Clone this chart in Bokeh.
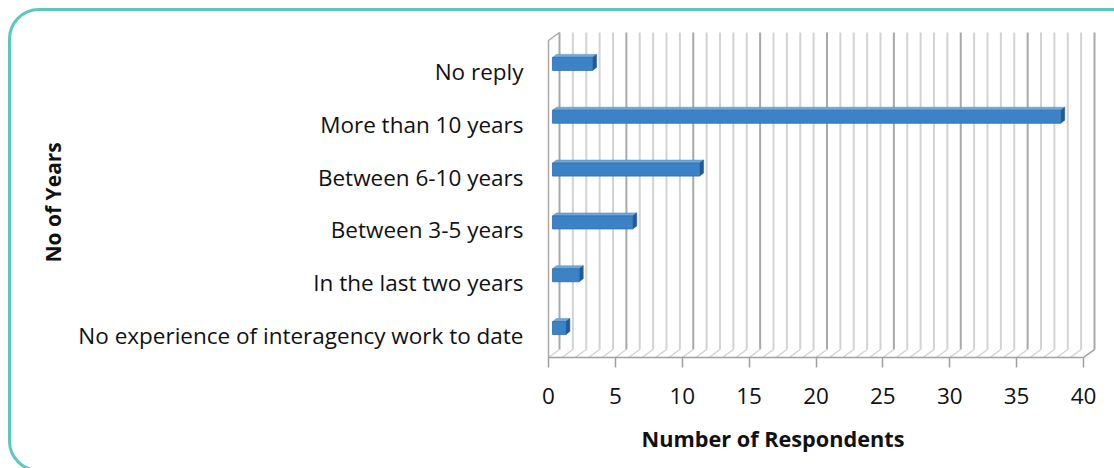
from bokeh.plotting import figure
from bokeh.models import Range1d, FixedTicker, Title, InlineStyleSheet
from bokeh.embed import file_html
from bokeh.resources import INLINE

# Survey data: years of interagency working experience
categories = [
    "No experience of interagency work to date",
    "In the last two years",
    "Between 3-5 years",
    "Between 6-10 years",
    "More than 10 years",
    "No reply",
]
respondents = [1, 2, 6, 11, 38, 3]
x_ticks = [0, 5, 10, 15, 20, 25, 30, 35, 40]
x_max = 40

# Canvas and plot-frame geometry (pixels)
W, H = 1114, 468
FL, FR, FT, FB = 540, 1104, 26, 360
X0_PX = 548                  # pixel column of value 0 on the front plane
PX_PER_X = 13.375
FRONT_BOTTOM, FRONT_TOP = 357, 40
n = len(categories)
PX_PER_Y = (FRONT_BOTTOM - FRONT_TOP) / n

# category labels sit a little below the centre of each band
shift = -4.5 / PX_PER_Y
y_lo, y_hi = -0.5 - shift, n - 0.5 - shift

x_start = -(X0_PX - FL) / PX_PER_X
x_end = (FR - X0_PX) / PX_PER_X
y_start = y_lo - (FB - FRONT_BOTTOM) / PX_PER_Y
y_end = y_hi + (FRONT_TOP - FT) / PX_PER_Y

# depth offsets of the 3-D box (pixels -> data units)
wall_dx, wall_dy = 11 / PX_PER_X, 8 / PX_PER_Y
bar_dx, bar_dy = 4 / PX_PER_X, 3 / PX_PER_Y
depth_dx, depth_dy = 4 / PX_PER_X, 3 / PX_PER_Y
bar_h = 13 / PX_PER_Y

FONT = "Open Sans"
TEXT = "#111111"

p = figure(
    width=W, height=H,
    x_range=Range1d(x_start, x_end), y_range=Range1d(y_start, y_end),
    output_backend="svg", toolbar_location=None,
    min_border_left=FL, min_border_right=W - FR,
    min_border_top=FT, min_border_bottom=H - FB,
)
p.outline_line_color = None
p.grid.visible = False
p.background_fill_color = "white"
p.border_fill_color = "white"

# back-wall gridlines and floor lines, one per unit
for v in range(0, x_max + 1):
    major = v % 5 == 0
    col = "#a9a9a9" if major else "#d3d3d3"
    p.line([v + wall_dx, v + wall_dx], [y_lo + wall_dy, y_hi + wall_dy],
           line_color=col, line_width=2)
    p.line([v, v + wall_dx], [y_lo, y_lo + wall_dy],
           line_color="#d3d3d3", line_width=1.5)

# side wall edge
p.line([0, 0, wall_dx], [y_lo, y_hi, y_hi + wall_dy], line_color="#a9a9a9", line_width=1.5)
# front axis line with the floor's right edge
p.line([0, x_max, x_max + wall_dx], [y_lo, y_lo, y_lo + wall_dy],
       line_color="#a0a0a0", line_width=1.5)

# 3-D bars: front face, top face, end face
ys = list(range(n))
lefts = [bar_dx] * n
rights = [v + bar_dx for v in respondents]
bottoms = [y - shift + bar_dy - bar_h / 2 for y in ys]
tops = [y - shift + bar_dy + bar_h / 2 for y in ys]

top_xs, top_ys, side_xs, side_ys = [], [], [], []
for l, r, b, t in zip(lefts, rights, bottoms, tops):
    top_xs.append([l, r, r + depth_dx, l + depth_dx])
    top_ys.append([t, t, t + depth_dy, t + depth_dy])
    side_xs.append([r, r + depth_dx, r + depth_dx, r])
    side_ys.append([b, b + depth_dy, t + depth_dy, t])

p.patches(top_xs, top_ys, fill_color="#6fa8dc", line_color="#4a88c4", line_width=0.5)
p.patches(side_xs, side_ys, fill_color="#1f5b94", line_color="#1f5b94", line_width=0.5)
p.quad(left=lefts, right=rights, bottom=bottoms, top=tops,
       fill_color="#3b82c6", line_color="#2f6fae", line_width=0.8)

# axes
xa = p.xaxis[0]
xa.ticker = FixedTicker(ticks=x_ticks)
xa.axis_line_color = None
xa.major_tick_line_color = "#a0a0a0"
xa.major_tick_line_width = 1.5
xa.major_tick_in = 3
xa.major_tick_out = 7
xa.minor_tick_line_color = None
xa.major_label_standoff = 20
xa.major_label_text_font = FONT
xa.major_label_text_font_size = "22.5px"
xa.major_label_text_color = TEXT

ya = p.yaxis[0]
ya.ticker = FixedTicker(ticks=ys)
ya.major_label_overrides = {i: c for i, c in enumerate(categories)}
ya.axis_line_color = None
ya.major_tick_line_color = None
ya.minor_tick_line_color = None
ya.major_label_standoff = 11
ya.major_label_text_font = FONT
ya.major_label_text_font_size = "22.5px"
ya.major_label_text_color = TEXT

# axis titles
p.add_layout(Title(text="Number of Respondents", align="left", offset=101, standoff=31,
                   text_font=FONT, text_font_style="bold", text_font_size="21.7px",
                   text_color=TEXT), "below")
p.add_layout(Title(text="No of Years", align="left", offset=98, standoff=18,
                   text_font=FONT, text_font_style="bold", text_font_size="21px",
                   text_color=TEXT), "left")

# rounded outer frame around the whole chart
p.stylesheets = [InlineStyleSheet(css="""
:host { overflow: hidden; }
:host::after {
  content: ""; position: absolute; left: 8px; top: 8px;
  width: 1200px; height: 464px;
  border: 3.5px solid #5bc8c0; border-radius: 31px;
  box-sizing: border-box; pointer-events: none;
}
""")]

open("out.html", "w").write(file_html(p, INLINE))
